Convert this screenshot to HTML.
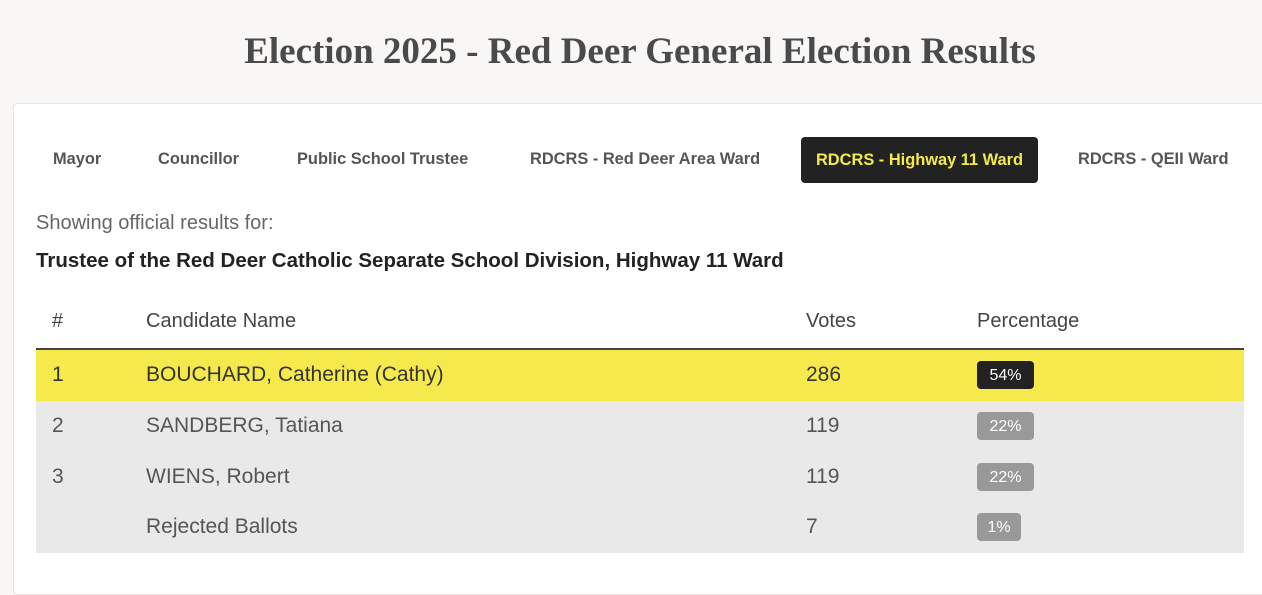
<!DOCTYPE html>
<html><head><style>
body{margin:0;width:1262px;height:581px;background:#f8f7f5;font-family:"Liberation Sans",sans-serif;position:relative;overflow:hidden}
.a{position:absolute;white-space:nowrap}
h1{position:absolute;left:0;width:1280px;top:30px;margin:0;text-align:center;font-family:"Liberation Serif",serif;font-weight:bold;font-size:37px;color:#4a4a4a}
.card{position:absolute;left:13px;top:103px;width:1260px;height:490px;background:#fff;border:1px solid #e6e4e0;border-radius:4px}
.tab{position:absolute;top:150px;font-size:16.4px;font-weight:bold;color:#555}
.act{position:absolute;left:801px;top:137px;width:237px;height:46px;background:#222;border-radius:4px;color:#f5e94c;font-weight:bold;font-size:16.4px;text-align:center;line-height:46px}
.th{position:absolute;top:310px;font-size:20px;color:#444}
.row{position:absolute;left:36px;width:1208px;height:51px;background:#e9e9e9}
.c{position:absolute;font-size:21px;color:#555;line-height:49px;top:0}
.b{position:absolute;top:11px;left:941px;height:28px;border-radius:4px;background:#999;color:#fff;font-size:16px;line-height:29px;text-align:center}
</style></head><body>
<h1>Election 2025 - Red Deer General Election Results</h1>
<div class="card"></div>
<div class="tab" style="left:53px">Mayor</div>
<div class="tab" style="left:158px">Councillor</div>
<div class="tab" style="left:297px">Public School Trustee</div>
<div class="tab" style="left:530px">RDCRS - Red Deer Area Ward</div>
<div class="act">RDCRS - Highway 11 Ward</div>
<div class="tab" style="left:1078px">RDCRS - QEII Ward</div>
<div class="a" style="left:36px;top:212px;font-size:20px;color:#666">Showing official results for:</div>
<div class="a" style="left:36px;top:249px;font-size:20.5px;font-weight:bold;color:#222">Trustee of the Red Deer Catholic Separate School Division, Highway 11 Ward</div>
<div class="th" style="left:52px">#</div>
<div class="th" style="left:146px">Candidate Name</div>
<div class="th" style="left:806px">Votes</div>
<div class="th" style="left:977px">Percentage</div>
<div class="a" style="left:36px;top:348px;width:1208px;height:2px;background:#444"></div>
<div class="row" style="top:350px;background:#f5e94c"><div class="c" style="left:16px;color:#333">1</div><div class="c" style="left:110px;color:#333">BOUCHARD, Catherine (Cathy)</div><div class="c" style="left:770px;color:#333">286</div><div class="b" style="background:#222;width:57px">54%</div></div>
<div class="row" style="top:401px"><div class="c" style="left:16px">2</div><div class="c" style="left:110px">SANDBERG, Tatiana</div><div class="c" style="left:770px">119</div><div class="b" style="width:57px">22%</div></div>
<div class="row" style="top:452px"><div class="c" style="left:16px">3</div><div class="c" style="left:110px">WIENS, Robert</div><div class="c" style="left:770px">119</div><div class="b" style="width:57px">22%</div></div>
<div class="row" style="top:502px"><div class="c" style="left:110px">Rejected Ballots</div><div class="c" style="left:770px">7</div><div class="b" style="width:44px">1%</div></div>
</body></html>
